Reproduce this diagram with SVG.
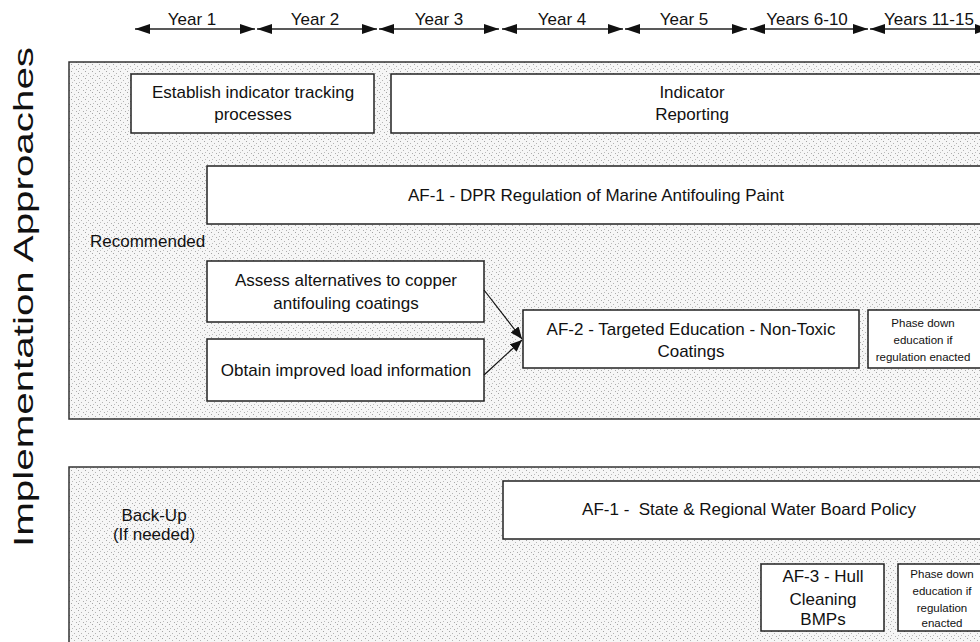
<svg xmlns="http://www.w3.org/2000/svg" width="980" height="642" viewBox="0 0 980 642">
<style>
text{font-family:"Liberation Sans",Arial,sans-serif;fill:#111}
.t17{font-size:17px;text-anchor:middle}
.t12{font-size:11.5px;text-anchor:middle}
.lbl{font-size:17px}
.panel{fill:url(#stip);stroke:#333;stroke-width:1.5}
.box{fill:#fff;stroke:#222;stroke-width:1.5}
.tl{stroke:#222;stroke-width:1.5;marker-start:url(#th);marker-end:url(#th)}
.conn{stroke:#111;stroke-width:1.2;fill:none;marker-end:url(#ah)}
</style>
<defs>
<pattern id="stip" width="7" height="7" patternUnits="userSpaceOnUse">
<rect width="7" height="7" fill="#f6f6f6"/>
<rect x="1" y="1" width="1" height="1" fill="#a4a4a4"/>
<rect x="4" y="3" width="1" height="1" fill="#b4b4b4"/>
<rect x="2" y="5" width="1" height="1" fill="#bcbcbc"/>
<rect x="6" y="6" width="1" height="1" fill="#acacac"/>
</pattern>
<marker id="th" viewBox="0 0 15 10" refX="15" refY="5" markerWidth="15" markerHeight="10" markerUnits="userSpaceOnUse" orient="auto-start-reverse">
<path d="M0,0 L15,5 L0,10 z" fill="#111"/>
</marker>
<marker id="ah" viewBox="0 0 12 10" refX="12" refY="5" markerWidth="12" markerHeight="10" markerUnits="userSpaceOnUse" orient="auto">
<path d="M0,0 L12,5 L0,10 z" fill="#111"/>
</marker>
</defs>
<rect width="980" height="642" fill="#fff"/>

<g id="axis-title">
<text transform="translate(33,297) rotate(-90)" font-size="28" text-anchor="middle" textLength="500" lengthAdjust="spacingAndGlyphs">Implementation Approaches</text>
</g>

<g id="timeline">
<line class="tl" x1="135" y1="29" x2="255" y2="29"/>
<line class="tl" x1="257" y1="29" x2="377" y2="29"/>
<line class="tl" x1="379" y1="29" x2="499" y2="29"/>
<line class="tl" x1="502" y1="29" x2="623" y2="29"/>
<line class="tl" x1="625" y1="29" x2="747" y2="29"/>
<line class="tl" x1="750" y1="29" x2="868" y2="29"/>
<line class="tl" x1="870" y1="29" x2="990" y2="29"/>
<text class="t17" x="192" y="25">Year 1</text>
<text class="t17" x="315" y="25">Year 2</text>
<text class="t17" x="439" y="25">Year 3</text>
<text class="t17" x="562" y="25">Year 4</text>
<text class="t17" x="684" y="25">Year 5</text>
<text class="t17" x="807" y="25">Years 6-10</text>
<text class="t17" x="929" y="25">Years 11-15</text>
</g>

<g id="panel-recommended">
<rect class="panel" x="69" y="62" width="940" height="357"/>
<text class="lbl" x="90" y="247">Recommended</text>
</g>
<g id="panel-backup">
<rect class="panel" x="69" y="467" width="940" height="200"/>
<text class="t17" x="154" y="521">Back-Up</text>
<text class="t17" x="154" y="540">(If needed)</text>
</g>

<g id="n-establish">
<rect class="box" x="131" y="74" width="243" height="59"/>
<text class="t17" x="253" y="98">Establish indicator tracking</text>
<text class="t17" x="253" y="120">processes</text>
</g>
<g id="n-reporting">
<rect class="box" x="391" y="74" width="610" height="59"/>
<text class="t17" x="692" y="98">Indicator</text>
<text class="t17" x="692" y="120">Reporting</text>
</g>
<g id="n-af1-dpr">
<rect class="box" x="207" y="166" width="800" height="58"/>
<text class="t17" x="596" y="201">AF-1 - DPR Regulation of Marine Antifouling Paint</text>
</g>
<g id="n-assess">
<rect class="box" x="207" y="261" width="277" height="61"/>
<text class="t17" x="346" y="286">Assess alternatives to copper</text>
<text class="t17" x="346" y="309">antifouling coatings</text>
</g>
<g id="n-obtain">
<rect class="box" x="207" y="339" width="277" height="62"/>
<text class="t17" x="346" y="376">Obtain improved load information</text>
</g>
<g id="n-af2">
<rect class="box" x="523" y="310" width="336" height="58"/>
<text class="t17" x="691" y="335">AF-2 - Targeted Education - Non-Toxic</text>
<text class="t17" x="691" y="357">Coatings</text>
</g>
<g id="n-phase1">
<rect class="box" x="868" y="310" width="130" height="58"/>
<text class="t12" x="923" y="327">Phase down</text>
<text class="t12" x="923" y="344">education if</text>
<text class="t12" x="923" y="361">regulation enacted</text>
</g>
<g id="n-af1-state">
<rect class="box" x="503" y="481" width="500" height="58"/>
<text class="t17" x="749" y="515" xml:space="preserve">AF-1 -  State &amp; Regional Water Board Policy</text>
</g>
<g id="n-af3">
<rect class="box" x="761" y="564" width="123" height="67"/>
<text class="t17" x="823" y="582">AF-3 - Hull</text>
<text class="t17" x="823" y="605">Cleaning</text>
<text class="t17" x="823" y="625">BMPs</text>
</g>
<g id="n-phase2">
<rect class="box" x="898" y="564" width="100" height="67"/>
<text class="t12" x="942" y="578">Phase down</text>
<text class="t12" x="942" y="595">education if</text>
<text class="t12" x="942" y="612">regulation</text>
<text class="t12" x="942" y="627">enacted</text>
</g>

<g id="connectors">
<line class="conn" x1="484" y1="290" x2="522" y2="339"/>
<line class="conn" x1="484" y1="375" x2="522" y2="340"/>
</g>
</svg>
